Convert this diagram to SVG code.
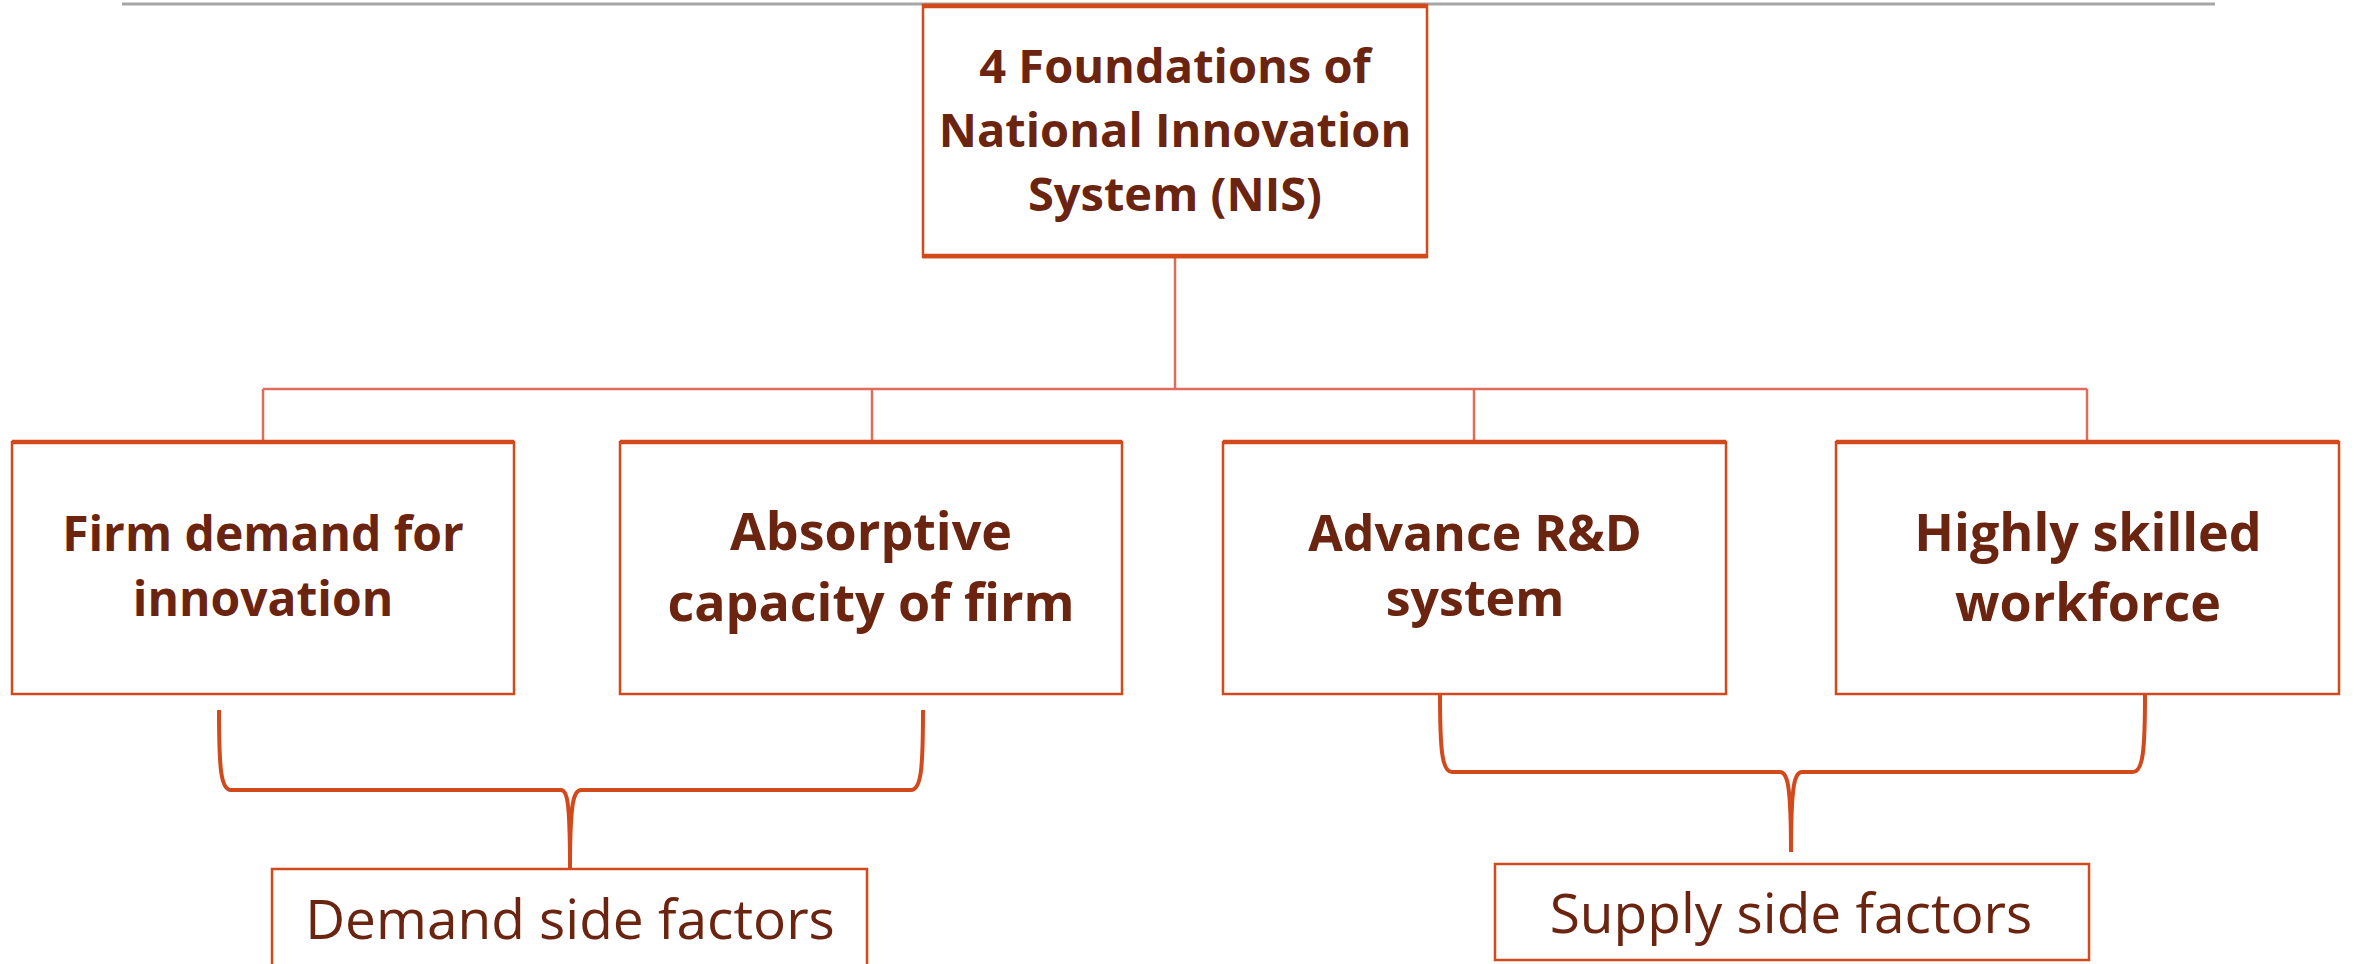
<svg xmlns="http://www.w3.org/2000/svg" width="2354" height="964" viewBox="0 0 2354 964">
<style>
.box{fill:#fff;stroke:#D24A1C;stroke-width:2.5}
.edge{stroke:#D24A1C;stroke-width:4.5}
.t{font-family:"Open Sans","Liberation Sans",sans-serif;font-weight:bold;fill:#6A2410;text-anchor:middle}
.r{font-family:"Open Sans","Liberation Sans",sans-serif;font-weight:normal;fill:#6A2410;text-anchor:middle;font-size:55px}
.c{fill:none;stroke:#E06C5C;stroke-width:2.5}
.br{fill:none;stroke:#D24A1C;stroke-width:4;stroke-linejoin:round}
</style>
<rect width="2354" height="964" fill="#fff"/>
<line x1="122" y1="4" x2="2215" y2="4" stroke="#A6A6A6" stroke-width="3"/>
<g id="connectors">
<line class="c" x1="1175" y1="257" x2="1175" y2="389"/>
<line class="c" x1="263" y1="389" x2="2087" y2="389" stroke-width="3.5"/>
<line class="c" x1="263" y1="389" x2="263" y2="441"/>
<line class="c" x1="872" y1="389" x2="872" y2="441" stroke="#A8321A"/>
<line class="c" x1="1474" y1="389" x2="1474" y2="441"/>
<line class="c" x1="2087" y1="389" x2="2087" y2="441"/>
<path class="br" d="M219,710 C219,770 221,790 231,790 L561,790 C567,790 570,800 570,868 M923,710 C923,770 921,790 911,790 L581,790 C574,790 570,800 570,868"/>
<path class="br" d="M1440,694 C1440,750 1442,772 1452,772 L1780,772 C1787,772 1791,782 1791,852 M2145,694 C2145,750 2143,772 2133,772 L1802,772 C1795,772 1791,782 1791,852"/>
</g>
<g id="n0">
<rect class="box" x="923" y="5" width="504" height="252"/>
<line class="edge" x1="923" y1="6" x2="1427" y2="6"/>
<line class="edge" x1="923" y1="256" x2="1427" y2="256"/>
<text class="t" font-size="47" x="1175"><tspan x="1175" y="83">4 Foundations of</tspan><tspan x="1175" y="147">National Innovation</tspan><tspan x="1175" y="211">System (NIS)</tspan></text>
</g>
<g id="n1">
<rect class="box" x="12" y="442" width="502" height="252"/>
<line class="edge" x1="12" y1="442" x2="514" y2="442"/>
<text class="t" font-size="48"><tspan x="263" y="551">Firm demand for</tspan><tspan x="263" y="616">innovation</tspan></text>
</g>
<g id="n2">
<rect class="box" x="620" y="442" width="502" height="252"/>
<line class="edge" x1="620" y1="442" x2="1122" y2="442"/>
<text class="t" font-size="52"><tspan x="871" y="550">Absorptive</tspan><tspan x="871" y="621">capacity of firm</tspan></text>
</g>
<g id="n3">
<rect class="box" x="1223" y="442" width="503" height="252"/>
<line class="edge" x1="1223" y1="442" x2="1726" y2="442"/>
<text class="t" font-size="50"><tspan x="1475" y="551">Advance R&amp;D</tspan><tspan x="1475" y="616">system</tspan></text>
</g>
<g id="n4">
<rect class="box" x="1836" y="442" width="503" height="252"/>
<line class="edge" x1="1836" y1="442" x2="2339" y2="442"/>
<text class="t" font-size="52"><tspan x="2088" y="551">Highly skilled</tspan><tspan x="2088" y="621">workforce</tspan></text>
</g>
<g id="n5">
<rect class="box" x="272" y="869" width="595" height="120"/>
<text class="r" x="570" y="939">Demand side factors</text>
</g>
<g id="n6">
<rect class="box" x="1495" y="864" width="594" height="96"/>
<text class="r" x="1791" y="933">Supply side factors</text>
</g>
</svg>
